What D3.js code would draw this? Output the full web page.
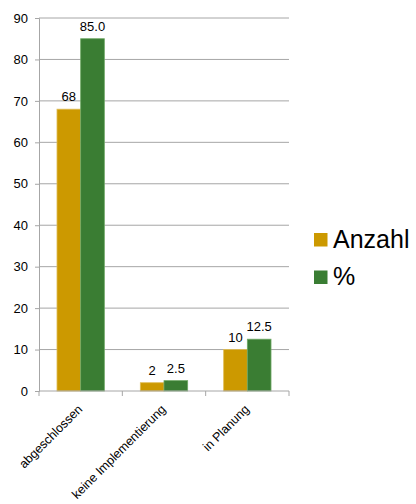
<!DOCTYPE html>
<html>
<head>
<meta charset="utf-8">
<script src="https://cdn.jsdelivr.net/npm/d3@7"></script>
<style>
  body { margin: 0; background: #fff; }
  text { font-family: "Liberation Sans", Arial, sans-serif; fill: #000; }
</style>
</head>
<body>
<div id="chart"></div>
<script>
const categories = ["abgeschlossen", "keine Implementierung", "in Planung"];
const seriesNames = ["Anzahl", "%"];
const anzahl = [68, 2, 10];
const prozent = [85.0, 2.5, 12.5];
const prozentLabels = ["85.0", "2.5", "12.5"];
const yTicks = [0, 10, 20, 30, 40, 50, 60, 70, 80, 90];
const colors = ["#cc9900", "#3a7d33"];
const strokes = ["#e0bd55", "#6ea864"];

const width = 416, height = 504;
const margin = {top: 18, right: 127, bottom: 113, left: 39};

const svg = d3.select("#chart").append("svg")
    .attr("width", width)
    .attr("height", height);

const x0 = d3.scaleBand()
    .domain(categories)
    .range([margin.left, width - margin.right]);

const x1 = d3.scaleBand()
    .domain(seriesNames)
    .range([0, x0.bandwidth()])
    .paddingOuter(0.76);

const y = d3.scaleLinear()
    .domain([0, 90])
    .range([height - margin.bottom, margin.top]);

// gridlines
svg.append("g")
    .selectAll("line")
    .data(yTicks.filter(d => d > 0))
    .join("line")
    .attr("x1", margin.left)
    .attr("x2", width - margin.right)
    .attr("y1", d => y(d))
    .attr("y2", d => y(d))
    .attr("stroke", "#a6a6a6")
    .attr("stroke-width", 1);

// y axis
const yAxis = svg.append("g")
    .attr("transform", `translate(${margin.left},0)`)
    .call(d3.axisLeft(y).tickValues(yTicks).tickSize(4).tickPadding(7));
yAxis.select(".domain").attr("stroke", "#a6a6a6");
yAxis.selectAll(".tick line").attr("stroke", "#a6a6a6");
yAxis.selectAll(".tick text")
    .style("font-size", "13px")
    .style("font-family", "Liberation Sans, Arial, sans-serif")
    .attr("fill", "#000");

// bars
const rows = categories.map((c, i) => ({cat: c, values: [anzahl[i], prozent[i]], labels: [String(anzahl[i]), prozentLabels[i]]}));

const groups = svg.append("g")
    .selectAll("g")
    .data(rows)
    .join("g")
    .attr("transform", d => `translate(${x0(d.cat)},0)`);

groups.selectAll("rect")
    .data(d => d.values.map((v, j) => ({name: seriesNames[j], value: v, j: j})))
    .join("rect")
    .attr("x", d => x1(d.name))
    .attr("width", x1.bandwidth())
    .attr("y", d => y(d.value))
    .attr("height", d => y(0) - y(d.value))
    .attr("fill", d => colors[d.j])
    .attr("stroke", d => strokes[d.j])
    .attr("stroke-width", 0.8);

groups.selectAll("text.val")
    .data(d => d.values.map((v, j) => ({name: seriesNames[j], value: v, label: d.labels[j]})))
    .join("text")
    .attr("class", "val")
    .attr("x", d => x1(d.name) + x1.bandwidth() / 2)
    .attr("y", d => y(d.value) - 8)
    .attr("text-anchor", "middle")
    .style("font-size", "13px")
    .text(d => d.label);

// x axis
const xAxis = svg.append("g")
    .attr("transform", `translate(0,${y(0)})`);
xAxis.append("line")
    .attr("x1", margin.left)
    .attr("x2", width - margin.right)
    .attr("stroke", "#a6a6a6");
const edges = categories.map(c => x0(c)).concat([x0.range()[1]]);
xAxis.selectAll("line.tick")
    .data(edges)
    .join("line")
    .attr("class", "tick")
    .attr("x1", d => d)
    .attr("x2", d => d)
    .attr("y1", 0)
    .attr("y2", 5)
    .attr("stroke", "#a6a6a6");

xAxis.selectAll("text")
    .data(categories)
    .join("text")
    .attr("transform", d => `translate(${x0(d) + x0.bandwidth() / 2 + 2.5},${19}) rotate(-45)`)
    .attr("text-anchor", "end")
    .style("font-size", "12.5px")
    .text(d => d);

// legend
const legend = svg.append("g")
    .attr("transform", "translate(314,233)");
const li = legend.selectAll("g")
    .data(seriesNames)
    .join("g")
    .attr("transform", (d, i) => `translate(0,${i * 37.5})`);
li.append("rect")
    .attr("width", 13.5)
    .attr("height", 13.5)
    .attr("fill", (d, i) => colors[i]);
li.append("text")
    .attr("x", 19)
    .attr("y", 14.5)
    .style("font-size", "25px")
    .text(d => d);
</script>
</body>
</html>
